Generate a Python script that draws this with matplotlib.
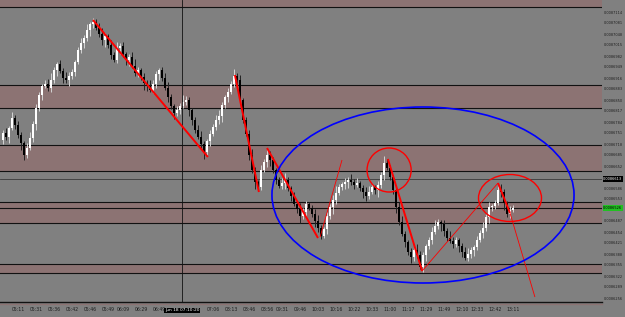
import matplotlib
matplotlib.use("Agg")
import matplotlib.pyplot as plt
from matplotlib.patches import Ellipse
from matplotlib import font_manager
import numpy as np

# ---- data (prices in units of 1e-7) ----
first_open = 86730
close = [
    86751, 86739, 86766, 86796, 86775, 86745, 86721, 86685, 86706, 86736,
    86778, 86826, 86865, 86892, 86898, 86886, 86910, 86940, 86958, 86937,
    86916, 86910, 86922, 86934, 86964, 87000, 87021, 87036, 87060, 87078,
    87084, 87066, 87048, 87030, 87042, 87015, 86985, 86970, 87006, 87012,
    86988, 86970, 86979, 86952, 86931, 86940, 86919, 86901, 86892, 86880,
    86898, 86928, 86940, 86916, 86886, 86859, 86832, 86811, 86820, 86832,
    86844, 86850, 86820, 86790, 86760, 86739, 86718, 86694, 86727, 86748,
    86769, 86790, 86802, 86835, 86859, 86874, 86898, 86922, 86910, 86850,
    86790, 86748, 86685, 86640, 86604, 86589, 86640, 86664, 86685, 86670,
    86640, 86610, 86592, 86601, 86610, 86586, 86562, 86538, 86523, 86502,
    86514, 86538, 86526, 86508, 86487, 86466, 86442, 86463, 86502, 86529,
    86550, 86571, 86589, 86598, 86604, 86610, 86604, 86595, 86601, 86586,
    86574, 86562, 86574, 86589, 86580, 86595, 86625, 86661, 86646, 86619,
    86580, 86529, 86484, 86448, 86424, 86394, 86379, 86400, 86385, 86349,
    86385, 86412, 86430, 86454, 86472, 86484, 86478, 86457, 86436, 86427,
    86418, 86430, 86412, 86394, 86376, 86388, 86400, 86409, 86430, 86451,
    86466, 86499, 86529, 86532, 86541, 86580, 86574, 86541, 86508, 86520,
    86526,
]
wick_up = [
    9, 15, 6, 18, 9, 12, 9, 6, 15, 18, 9, 12, 9, 6, 12, 15, 21, 9, 6, 12,
    9, 18, 12, 9, 6, 9, 15, 9, 18, 6, 12, 9, 15, 18, 9, 6, 15, 9, 18, 9,
    12, 6, 9, 15, 21, 9, 6, 12, 9, 18, 12, 9, 6, 9, 15, 18, 9, 6, 12, 9,
    21, 12, 9, 6, 9, 15, 18, 9, 6, 12, 9, 15, 18, 9, 6, 12, 9, 21, 9, 15,
    6, 9, 12, 18, 9, 6, 15, 9, 18, 12, 9, 6, 9, 15, 21, 9, 6, 12, 9, 18,
    12, 9, 6, 9, 15, 18, 9, 6, 12, 9, 15, 21, 9, 6, 12, 9, 18, 9, 15, 6,
    9, 15, 18, 9, 6, 12, 9, 21, 12, 9, 6, 9, 15, 18, 9, 6, 12, 9, 18, 12,
    9, 6, 9, 15, 18, 9, 6, 12, 9, 21, 12, 9, 6, 9, 15, 18, 9, 6, 12, 9,
    18, 9, 15, 6, 9, 12, 18, 9, 6, 12, 9,
]
wick_dn = [
    12, 9, 18, 6, 12, 9, 21, 15, 9, 6, 12, 18, 9, 15, 6, 9, 12, 9, 18, 6,
    15, 9, 18, 9, 12, 6, 9, 15, 9, 18, 12, 6, 9, 15, 21, 9, 12, 6, 9, 18,
    9, 15, 18, 6, 9, 12, 9, 21, 15, 6, 9, 12, 18, 9, 6, 15, 9, 18, 9, 12,
    6, 9, 18, 15, 9, 6, 12, 21, 9, 15, 6, 9, 12, 18, 9, 15, 6, 9, 18, 12,
    9, 6, 15, 9, 21, 12, 9, 6, 15, 18, 9, 12, 6, 9, 18, 9, 15, 6, 12, 21,
    9, 15, 6, 9, 18, 12, 9, 6, 15, 9, 21, 12, 6, 9, 15, 18, 9, 12, 6, 9,
    18, 15, 9, 6, 12, 21, 9, 15, 6, 9, 12, 18, 9, 6, 15, 9, 18, 12, 9, 6,
    15, 18, 9, 12, 6, 9, 21, 15, 9, 6, 12, 9, 18, 15, 6, 9, 12, 18, 9, 6,
    15, 9, 18, 12, 9, 6, 15, 21, 9, 12, 6,
]

# horizontal levels and shaded zones (price units 1e-7)
zones = [(87129, 87200), (86826, 86895), (86637, 86715), (86481, 86544), (86331, 86358)]
black_levels = [87129, 86895, 86826, 86715, 86637, 86544, 86526, 86481, 86358, 86331]
gray_levels = [86613]
bid_price = 86526
cross_price = 86613

# trend lines: (x0, p0, x1, p1, thick?)
trend_lines = [
    (30.0, 87090, 68.3, 86679, True),
    (77.3, 86925, 85.3, 86574, True),
    (88.0, 86706, 105.0, 86436, True),
    (105.7, 86439, 113.0, 86670, False),
    (128.3, 86673, 139.7, 86337, True),
    (139.7, 86337, 165.0, 86601, False),
    (165.0, 86601, 169.0, 86511, True),
    (169.0, 86511, 177.3, 86259, False),
]
# ellipses: (cx, cy, w, h, color)
ellipses = [
    (128.7, 86640, 14.7, 132, "red"),
    (169.0, 86556, 21.0, 141, "red"),
    (140.0, 86565, 100.7, 528, "#0000ff"),
]

time_labels = ["05:11", "05:31", "05:36", "05:42", "05:46", "05:49", "06:09", "06:29",
               "06:49", "07:06", "08:13", "08:46", "08:56", "09:31", "09:46", "10:03",
               "10:16", "10:22", "10:33", "11:00", "11:17", "11:29", "11:49", "12:10",
               "12:33", "12:42", "13:11"]
time_idx = [5, 11, 17, 23, 29, 35, 40, 46, 52, 70, 76, 82, 88, 93, 99, 105, 111, 117,
            123, 129, 135, 141, 147, 153, 158, 164, 170]
cross_label = "Jun 18 07:10:20"
cross_idx = 59.7

# narrow font for the price scale if available
names = {f.name for f in font_manager.fontManager.ttflist}
if "Liberation Sans Narrow" in names:
    pfam, psize = "Liberation Sans Narrow", 3.0
else:
    pfam, psize = "DejaVu Sans", 2.5

# ---- figure ----
W, H = 625, 317
fig = plt.figure(figsize=(W / 100, H / 100), dpi=100)
bg = "#808080"
fig.patch.set_facecolor(bg)
ax = fig.add_axes([0, 1 - 302 / H, 602 / W, 302 / H])
ax.set_facecolor(bg)

ymax, ymin = 87150, 87150 - 3 * 302
ax.set_ylim(ymin, ymax)
ax.set_xlim(-1, 599 / 3)

for lo_, hi_ in zones:
    ax.axhspan(lo_, hi_, color="#8c7373", lw=0, zorder=0)
for p in black_levels:
    ax.axhline(p, color="#111111", lw=0.8, zorder=1)
for p in gray_levels:
    ax.axhline(p, color="#3a3a3a", lw=0.6, zorder=1)

# candles
c = np.array(close, dtype=float)
o = np.concatenate([[first_open], c[:-1]])
hi = np.maximum(o, c) + np.array(wick_up)
lo = np.minimum(o, c) - np.array(wick_dn)
x = np.arange(len(c))
up = c >= o
ax.vlines(x[up], lo[up], hi[up], color="#d4d4d4", lw=0.7, zorder=2)
ax.vlines(x[~up], lo[~up], hi[~up], color="#222222", lw=0.7, zorder=2)
body = np.where(np.abs(c - o) < 3, 3, c - o)
ax.bar(x[up], body[up], bottom=o[up], width=0.7, color="white", edgecolor="none", zorder=3)
ax.bar(x[~up], body[~up], bottom=o[~up], width=0.7, color="black", edgecolor="none", zorder=3)

# crosshair
ax.axvline(cross_idx, color="#111111", lw=0.6, zorder=4)

# drawings
for x0, p0, x1, p1, thick in trend_lines:
    ax.plot([x0, x1], [p0, p1], color="red", lw=1.4 if thick else 0.6, zorder=5,
            solid_capstyle="butt")
for cx, cy, w, h, col in ellipses:
    ax.add_patch(Ellipse((cx, cy), w, h, fill=False, edgecolor=col,
                         lw=1.0 if col == "red" else 1.2, zorder=5))

# axes styling
for s in ["top", "left", "right"]:
    ax.spines[s].set_visible(False)
ax.spines["bottom"].set_color("#111111")
ax.spines["bottom"].set_linewidth(1.0)
ax.axhline(ymin - 6, color="#8c7373", lw=1.0, clip_on=False)

yt_all = [87114 - 33 * k for k in range(27)]
yt = [v for v in yt_all if abs(v - cross_price) > 15 and abs(v - bid_price) > 15]
ax.yaxis.tick_right()
ax.set_yticks(yt)
ax.set_yticklabels([f"0.00{v:05d}" for v in yt], family=pfam)
ax.tick_params(axis="y", length=0, pad=1.5, labelsize=psize, labelcolor="#1e1e1e")
ax.set_xticks(time_idx)
ax.set_xticklabels(time_labels)
ax.tick_params(axis="x", length=0, pad=3.5, labelsize=3.3, labelcolor="#1e1e1e")

ax.text(cross_idx, -0.028, cross_label, transform=ax.get_xaxis_transform(),
        ha="center", va="center", fontsize=3.2, color="white", zorder=10,
        clip_on=False, bbox=dict(boxstyle="square,pad=0.2", fc="black", ec="none"))
ax.text(1.002, cross_price, f"0.00{cross_price:05d}", transform=ax.get_yaxis_transform(),
        ha="left", va="center", fontsize=psize, family=pfam, color="white", zorder=10,
        clip_on=False, bbox=dict(boxstyle="square,pad=0.2", fc="black", ec="none"))
ax.text(1.002, bid_price, f"0.00{bid_price:05d}", transform=ax.get_yaxis_transform(),
        ha="left", va="center", fontsize=psize, family=pfam, color="black", zorder=10,
        clip_on=False, bbox=dict(boxstyle="square,pad=0.2", fc="#22c022", ec="none"))

fig.savefig("out.png", dpi=100, facecolor=bg)
